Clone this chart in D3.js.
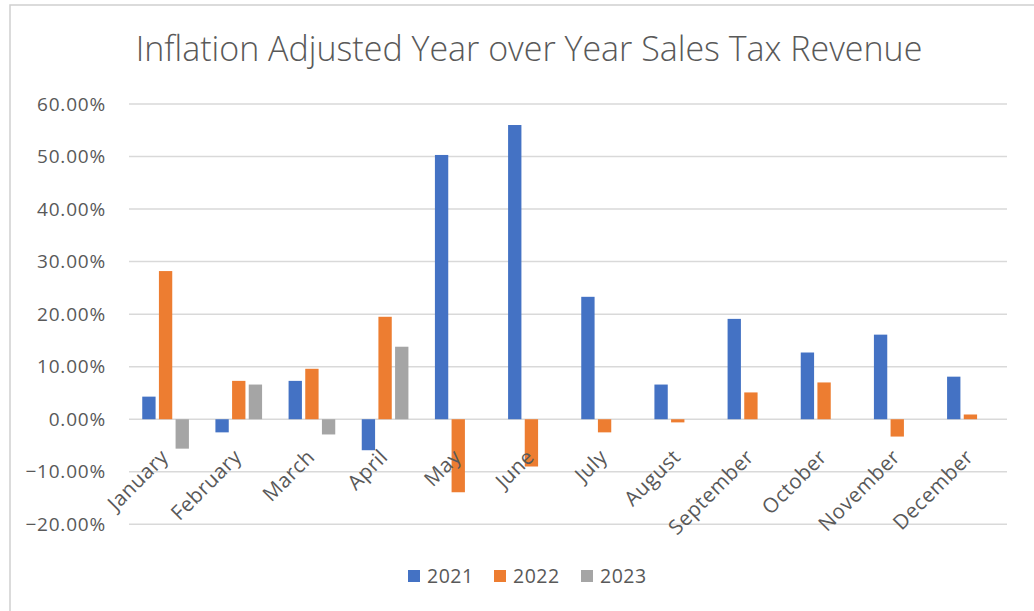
<!DOCTYPE html>
<html>
<head>
<meta charset="utf-8">
<script src="https://cdn.jsdelivr.net/npm/d3@7"></script>
<style>
  html, body { margin: 0; padding: 0; background: #ffffff; }
  svg { display: block; }
  text { font-family: "Open Sans", "DejaVu Sans", sans-serif; fill: #595959; }
</style>
</head>
<body>
<svg id="chart" width="1034" height="611"></svg>
<script>
// Month categories
const months = ["January", "February", "March", "April", "May", "June",
  "July", "August", "September", "October", "November", "December"];

// Year-over-year change in inflation-adjusted sales tax revenue (%)
const years = ["2021", "2022", "2023"];
const values2021 = [4.3, -2.5, 7.3, -5.9, 50.3, 56.0, 23.3, 6.6, 19.1, 12.7, 16.1, 8.1];
const values2022 = [28.2, 7.3, 9.6, 19.5, -13.9, -9.0, -2.5, -0.6, 5.1, 7.0, -3.3, 0.9];
const values2023 = [-5.6, 6.6, -2.9, 13.8, null, null, null, null, null, null, null, null];

// Y axis ticks
const yTicks = [-20, -10, 0, 10, 20, 30, 40, 50, 60];

const colors = { "2021": "#4472C4", "2022": "#ED7D31", "2023": "#A5A5A5" };
const seriesValues = { "2021": values2021, "2022": values2022, "2023": values2023 };

const svg = d3.select("#chart");

// Outer chart frame
svg.append("rect")
  .attr("x", 10).attr("y", 5)
  .attr("width", 1100).attr("height", 700)
  .attr("fill", "none")
  .attr("stroke", "#cfcfcf")
  .attr("stroke-width", 1.5);

// Title
svg.append("text")
  .attr("x", 529).attr("y", 61)
  .attr("text-anchor", "middle")
  .style("font-size", "34px")
  .style("font-weight", 300)
  .text("Inflation Adjusted Year over Year Sales Tax Revenue");

const plotLeft = 129, plotRight = 1007;

const y = d3.scaleLinear().domain([-20, 60]).range([524.3, 104]);

const x0 = d3.scaleBand().domain(months).range([plotLeft, plotRight]).padding(0);
const bw = x0.bandwidth();
const x1 = d3.scaleBand().domain(years)
  .range([bw / 2 - 25, bw / 2 + 25]).paddingInner(0.2).paddingOuter(0.1);

// Horizontal gridlines
svg.append("g")
  .selectAll("line")
  .data(yTicks)
  .join("line")
  .attr("x1", plotLeft).attr("x2", plotRight)
  .attr("y1", d => y(d)).attr("y2", d => y(d))
  .attr("stroke", "#d9d9d9")
  .attr("stroke-width", 1.5);

// Y axis labels
const fmt = d3.format(".2f");
svg.append("g")
  .selectAll("text")
  .data(yTicks)
  .join("text")
  .attr("x", 106)
  .attr("y", d => y(d))
  .attr("dy", "0.35em")
  .attr("text-anchor", "end")
  .style("font-size", "19px")
  .style("letter-spacing", "0.8px")
  .text(d => fmt(d) + "%");

// Bars
const groups = svg.append("g")
  .selectAll("g")
  .data(months)
  .join("g")
  .attr("transform", d => `translate(${x0(d)},0)`);

groups.selectAll("rect")
  .data((m, i) => years.map(yr => ({ year: yr, value: seriesValues[yr][i] }))
    .filter(d => d.value !== null))
  .join("rect")
  .attr("x", d => x1(d.year))
  .attr("width", x1.bandwidth())
  .attr("y", d => y(Math.max(0, d.value)))
  .attr("height", d => Math.abs(y(d.value) - y(0)))
  .attr("fill", d => colors[d.year]);

// Month labels, rotated
svg.append("g")
  .selectAll("text")
  .data(months)
  .join("text")
  .attr("transform", d => `translate(${x0(d) + bw / 2 + 4},${y(0) + 39}) rotate(-45)`)
  .attr("text-anchor", "end")
  .style("font-size", "20.5px")
  .style("letter-spacing", "0.5px")
  .text(d => d);

// Legend
const legendItems = [
  { year: "2021", x: 408 },
  { year: "2022", x: 494 },
  { year: "2023", x: 581 }
];
const legend = svg.append("g")
  .selectAll("g")
  .data(legendItems)
  .join("g")
  .attr("transform", d => `translate(${d.x},570)`);
legend.append("rect")
  .attr("width", 12).attr("height", 12)
  .attr("fill", d => colors[d.year]);
legend.append("text")
  .attr("x", 19).attr("y", 6)
  .attr("dy", "0.35em")
  .style("font-size", "19.5px")
  .style("letter-spacing", "0.5px")
  .text(d => d.year);
</script>
</body>
</html>
